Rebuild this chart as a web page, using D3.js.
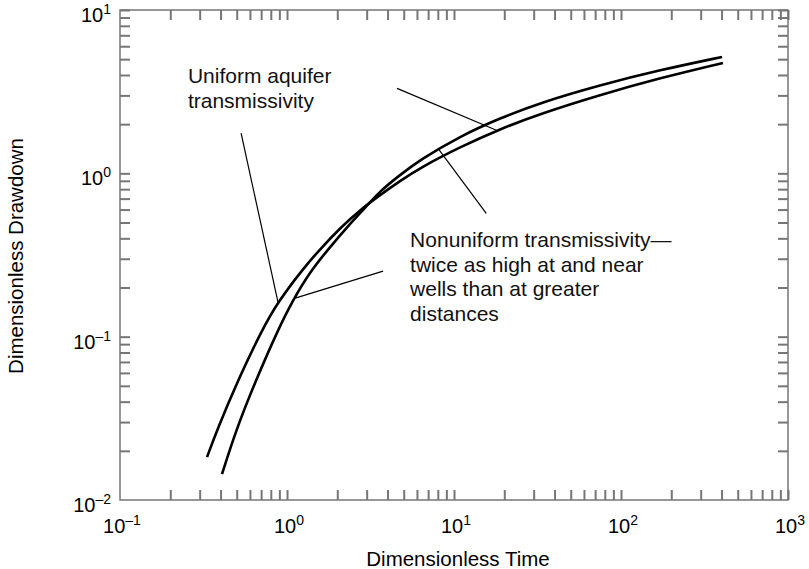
<!DOCTYPE html>
<html>
<head>
<meta charset="utf-8">
<script src="https://cdn.jsdelivr.net/npm/d3@7"></script>
<style>
  body { margin: 0; background: #fff; }
  svg { display: block; font-family: "Liberation Sans", Arial, Helvetica, sans-serif; }
</style>
</head>
<body>
<div id="chart"></div>
<script>
// values (dimensionless time, dimensionless drawdown)
const uniformTime = [0.332, 0.381, 0.509, 0.708, 0.883, 1.23, 1.58, 2.08, 2.74, 3.61, 4.75, 6.26, 10.9, 18.9, 32.7, 74.9, 171, 408];
const uniformDrawdown = [0.0183, 0.0268, 0.0543, 0.110, 0.163, 0.256, 0.344, 0.463, 0.597, 0.737, 0.898, 1.08, 1.45, 1.87, 2.31, 3.02, 3.83, 4.74];
const nonuniformTime = [0.408, 0.495, 0.652, 0.883, 1.07, 1.37, 1.81, 2.38, 2.93, 3.61, 4.75, 6.26, 10.9, 18.9, 32.7, 74.9, 171, 403];
const nonuniformDrawdown = [0.0144, 0.0268, 0.0543, 0.110, 0.163, 0.249, 0.354, 0.490, 0.614, 0.780, 0.977, 1.21, 1.69, 2.18, 2.70, 3.47, 4.29, 5.16];

const xDecades = [-1, 0, 1, 2, 3];
const yDecades = [-2, -1, 0, 1];
const uniformLabel = ["Uniform aquifer", "transmissivity"];
const nonuniformLabel = ["Nonuniform transmissivity\u2014", "twice as high at and near", "wells than at greater", "distances"];

const width = 809, height = 569;
const margin = {top: 10, right: 21, bottom: 69, left: 120};
const innerW = width - margin.left - margin.right;
const innerH = height - margin.top - margin.bottom;

const svg = d3.select("#chart").append("svg")
    .attr("width", width)
    .attr("height", height);

const g = svg.append("g")
    .attr("transform", `translate(${margin.left},${margin.top})`);

const x = d3.scaleLog().domain([0.1, 1000]).range([0, innerW]);
const y = d3.scaleLog().domain([0.01, 10]).range([innerH, 0]);

// minor ticks 2..10 in every decade
const minor = decades => {
    const out = [];
    decades.slice(0, -1).forEach(e => {
        for (let k = 2; k <= 10; k++) out.push(k * Math.pow(10, e));
    });
    return out;
};
const xTicks = minor(xDecades);
const yTicks = minor(yDecades);

const tickColor = "#767676";
const styleAxis = sel => {
    sel.select(".domain").remove();
    sel.selectAll(".tick line")
        .attr("stroke", tickColor)
        .attr("stroke-width", 2);
};

g.append("g").attr("transform", `translate(0,${innerH})`)
    .call(d3.axisBottom(x).tickValues(xTicks).tickSize(-10).tickFormat(""))
    .call(styleAxis);
g.append("g")
    .call(d3.axisTop(x).tickValues(xTicks).tickSize(-10).tickFormat(""))
    .call(styleAxis);
g.append("g")
    .call(d3.axisLeft(y).tickValues(yTicks).tickSize(-10).tickFormat(""))
    .call(styleAxis);
g.append("g").attr("transform", `translate(${innerW},0)`)
    .call(d3.axisRight(y).tickValues(yTicks).tickSize(-10).tickFormat(""))
    .call(styleAxis);

// frame
g.append("rect")
    .attr("width", innerW)
    .attr("height", innerH)
    .attr("fill", "none")
    .attr("stroke", tickColor)
    .attr("stroke-width", 1.5);

// power-of-ten labels
const expText = e => (e < 0 ? "\u2013" + (-e) : String(e));
const powLabel = (sel, e) => {
    sel.append("tspan").text("10");
    sel.append("tspan")
        .attr("dy", -8)
        .style("font-size", "14px")
        .text(expText(e));
};

xDecades.forEach(e => {
    g.append("text")
        .attr("x", x(Math.pow(10, e)) + 2)
        .attr("y", innerH + 33)
        .attr("text-anchor", "middle")
        .style("font-size", "20px")
        .call(powLabel, e);
});
yDecades.forEach(e => {
    g.append("text")
        .attr("x", -9)
        .attr("y", y(Math.pow(10, e)) + 12)
        .attr("text-anchor", "end")
        .style("font-size", "20px")
        .call(powLabel, e);
});

// axis titles
svg.append("text")
    .attr("x", margin.left + innerW / 2 + 4)
    .attr("y", 566)
    .attr("text-anchor", "middle")
    .style("font-size", "20.5px")
    .text("Dimensionless Time");
svg.append("text")
    .attr("transform", `translate(23,${margin.top + innerH / 2 + 1})rotate(-90)`)
    .attr("text-anchor", "middle")
    .style("font-size", "20.5px")
    .text("Dimensionless Drawdown");

// curves
const line = d3.line()
    .x(d => x(d[0]))
    .y(d => y(d[1]))
    .curve(d3.curveBasis);

[[uniformTime, uniformDrawdown], [nonuniformTime, nonuniformDrawdown]].forEach(([t, s]) => {
    g.append("path")
        .datum(d3.zip(t, s))
        .attr("d", line)
        .attr("fill", "none")
        .attr("stroke", "#000")
        .attr("stroke-width", 2.6);
});

// annotation text
const addLabel = (lines, t, s) => {
    const txt = g.append("text")
        .attr("x", x(t))
        .attr("y", y(s))
        .style("font-size", "21px")
        .attr("fill", "#111");
    lines.forEach((l, i) => {
        txt.append("tspan")
            .attr("x", x(t))
            .attr("dy", i === 0 ? 0 : 24.5)
            .text(l);
    });
};
addLabel(uniformLabel, 0.255, 3.55);
addLabel(nonuniformLabel, 5.46, 0.352);

// leader lines, from text to curve
const leaders = [
    [[0.531, 1.76], [0.883, 0.163]],
    [[4.56, 3.31], [18.1, 1.83]],
    [[15.6, 0.569], [8.02, 1.42]],
    [[3.76, 0.252], [1.12, 0.172]]
];
g.selectAll(".leader")
    .data(leaders)
    .enter().append("line")
    .attr("class", "leader")
    .attr("x1", d => x(d[0][0]))
    .attr("y1", d => y(d[0][1]))
    .attr("x2", d => x(d[1][0]))
    .attr("y2", d => y(d[1][1]))
    .attr("stroke", "#000")
    .attr("stroke-width", 1.2);
</script>
</body>
</html>
